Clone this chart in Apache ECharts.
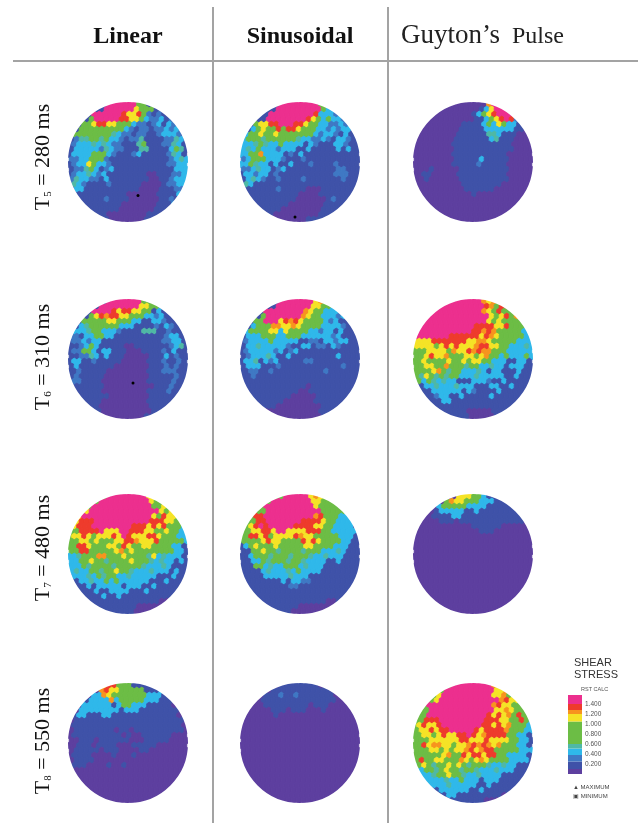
<!DOCTYPE html>
<html lang="en">
<head>
<meta charset="UTF-8">
<title>Shear stress</title>
<script src="https://cdn.jsdelivr.net/npm/echarts@6/dist/echarts.min.js"></script>
<style>
  html, body { margin: 0; padding: 0; background: #fff; }
  #chart { width: 638px; height: 827px; filter: blur(0.45px); }
</style>
</head>
<body>
<div id="chart"></div>
<script>
// one digit per cell: 0 purple ... 9 magenta
const linearT5 = [
  '111111119999995511111111','111111199999965551111111','111119999998668521211111','111159999988665322312111',
  '111556886655532212313211','115555555553212212232321','155555555432212211233321','124455453321224111122431',
  '123334343221114511122431','133333243221114411113541','133335553211123111112431','223355521111111111112343',
  '123365332111111111112233','122453123111111111111333','123343231111111100111223','243322131111111100112333',
  '143211112111111000012233','133111111111110000111221','111111111111000000111131','111111121111000000112131',
  '111111111110000000111311','111111111100000001111111','111111110000000011111111','111111110000000111111111'
];
const sinusoidalT5 = [
  '111111119999999951111111','111111199999999953311111','111111999999999833321111','111119999999986535332111',
  '111566889998865533223211','113565585886555332323311','135565565555555323321311','355545555554332232133211',
  '333454335333313211133211','343533323331131111131311','335573333121311111111111','235553332111211111111111',
  '335433131131112111121111','223433123111111111122111','133233121111111111122211','134321121111211111112111',
  '143111111111111111111111','111111121111100011111111','111111111111000011111111','111111111110000001211111',
  '111111111100000001111111','111111110000000011111111','111111100000000011111111','111110000000011111111111'
];
const guytonT5 = [
  '000000000000000799900000','000000000000013699990000','000000000000135689991000','000000000000113568982100',
  '000000000011113536533100','000000000111113333331100','000000000111111443111000','000000001111111341110000',
  '000000001111111111110000','000000001111111111110000','000000001111111111100000','000000001111131111100000',
  '000000001111121111100000','000100000111111111100000','001100000111111111100000','001000000111111111100000',
  '000000000011111111000000','000000000011111100000000','000000000000100000000000','000000000000000000000000',
  '000000000000000000000000','000000000000000000000000','000000000000000000000000','000000000000000000000000'
];
const linearT6 = [
  '111111119999999551111111','111111999999996655211111','111119999868866551311111','111156878866555332311111',
  '111555556655533113321111','113455555533311112132111','133345533321111444112111','221335533111111111123311',
  '122323311111111111122331','112353111110011111112341','122553133111000111121311','112243131110000011131211',
  '133112111110000011121121','131111111000000011121211','112111110000000011122211','121111100000000011111211',
  '122111100000000011111211','111111100000000001112111','111111100000000011112111','111111110000000011111111',
  '111111100000000011111111','111111000000000011111111','111111100000000001111111','111111000000000111111111'
];
const sinusoidalT6 = [
  '111111119999999676111111','111111199999996655331111','111119999999976553332111','111159999999765533323111',
  '111559996878655553231111','113555776676555533332111','135555663655553323313111','133355533555333333231111',
  '123333533333112213323311','133433333211331221321111','123333323123111111111111','123334311311111111131111',
  '133413231111122111111111','133311121111111111112111','112211211111111112111111','112111111111111111111111',
  '111111111111111111111111','111111111111101111111111','111111111111001111111111','111111111100000111111111',
  '111111111000000111111111','111111100000000011111111','111110000000000011111111','111110000000000011111111'
];
const guytonT6 = [
  '999999999999997676555555','999999999999998758855555','999999999999997658555555','999999999999999656857555',
  '999999999999999656555555','999999999999888866855553','999999999999887875555533','999999988888868765555533',
  '666688888886677655555333','666656868666788665533343','555666657668787755533333','556866755566567553533353',
  '556555565565665533311331','556655755545533433133311','555567545533343133111311','546545455333433333113111',
  '353543433111333211311111','113343334333111331131111','111133333313211113111111','111123311311111311111111',
  '111111331111111111111111','111111111111111111111111','111111111110000011111111','111111111110000011111111'
];
const linearT7 = [
  '555555559999999966555555','555555999999999965565555','555559999999999995565655','555699999999999999656565',
  '556999999999999996586655','568889999999999988866553','668889999999988868685553','558888966699888665565533',
  '566865666869866688655533','556656555668876668555553','558865556658655665555331','558855555675655555555331',
  '334555775556555546343331','335565545555655543433131','333545555455555433343111','343355455655433343331311',
  '133343545533433333111311','113343353533333311131111','111131333331333113111111','111113113333111311111111',
  '111111131131111111111111','111111111111111111000111','111111111111110000001111','111111111111100001111111'
];
const sinusoidalT7 = [
  '555555555999996765555555','555555999999996655555111','555559999999999655553311','555559999999999955555311',
  '555889999999999785553331','555889999999888865533331','556898999998888665533331','556688699666688855333333',
  '558868566668766555553331','555568665555868655553311','135655565555566555533311','115565545555455533343111',
  '113555455545554334333111','113354555455433331131111','111553433555343331111111','111134333435333311111111',
  '111113333343331111111111','111111113133221111111111','111111111122111111111111','111111111111111111111111',
  '111111111111111111111111','111111111111111110011111','111111111111000000011111','111111111100000000111111'
];
const guytonT7 = [
  '000000000666553111111000','000000576655533311111110','000003555553333111111110','000013333311311111111110',
  '000011113311111111111110','000001110111111111111100','000000000000111111000000','000000000000011100000000',
  '000000000000000000000000','000000000000000000000000','000000000000000000000000','000000000000000000000000',
  '000000000000000000000000','000000000000000000000000','000000000000000000000000','000000000000000000000000',
  '000000000000000000000000','000000000000000000000000','000000000000000000000000','000000000000000000000000',
  '000000000000000000000000','000000000000000000000000','000000000000000000000000','000000000000000000000000'
];
const linearT8 = [
  '000000068855511111000000','000000786655555111335000','000003376555555533311100','000133337355555333111000',
  '000333333135533311111000','003333333313331111111100','013311133111111111111100','011111111111111111111110',
  '011111111111111111111110','011111111011011111111110','011111111110100111111000','001110111111000111110000',
  '001110111100011111000000','011111011100001100000000','011110000100010000000000','011110000000000000000000',
  '011100001001000000000000','000000000000000000000000','000000000000000000000000','000000000000000000000000',
  '000000000000000000000000','000000000000000000000000','000000000000000000000000','000000000000000000000000'
];
const sinusoidalT8 = [
  '000000001111111100000000','000000111111111111000000','000001112112111111100000','000011111111111111100000',
  '000001111111110111000000','000000111011100010000000','000000010000000000000000','000000000000000000000000',
  '000000000000000000000000','000000000000000000000000','000000000000000000000000','000000000000000000000000',
  '000000000000000000000000','000000000000000000000000','000000000000000000000000','000000000000000000000000',
  '000000000000000000000000','000000000000000000000000','000000000000000000000000','000000000000000000000000',
  '000000000000000000000000','000000000000000000000000','000000000000000000000000','000000000000000000000000'
];
const guytonT8 = [
  '555555559999999976555555','555555999999999966755555','555556999999999966756555','555569999999999997866555',
  '555999999999999978665555','555999999999999966765555','555999999999999868675855','558889999999998886655853',
  '568668999999998868675553','566868899999868888755533','556656866889867888855331','555666666886668666655331',
  '558677665667878767555331','555665656678678855555333','555555675586886885533331','585566555765676555533331',
  '356545565654555433433111','335545655455433343331111','133345565543343333111111','113333433533313331111111',
  '111333343333311311111111','111113333331131111111111','111111133111111111000111','111111111111110000001111'
];

const discs = [
  linearT5, sinusoidalT5, guytonT5,
  linearT6, sinusoidalT6, guytonT6,
  linearT7, sinusoidalT7, guytonT7,
  linearT8, sinusoidalT8, guytonT8
];
// [disc, col, row] of the black minimum dots
const minimumDots = [[0, 14, 18.7], [1, 11, 23], [3, 13, 16.8]];

const columnNames = ['Linear', 'Sinusoidal'];
const rowLabels = ['T{sub|5} = 280 ms', 'T{sub|6} = 310 ms', 'T{sub|7} = 480 ms', 'T{sub|8} = 550 ms'];
const levelColors = ['#5d3f9f', '#3f52a8', '#3f78c4', '#2fb8ea', '#4fb8a5', '#6cbd45', '#f5e326', '#f7941e', '#ee3b2c', '#ec2f8e'];
const levelFloors = [0, 0.1, 0.25, 0.38, 0.51, 0.6, 1.05, 1.2, 1.28, 1.4];
const legendTop = 1.58;
const legendTicks = [0.2, 0.4, 0.6, 0.8, 1.0, 1.2, 1.4];

const columnX = [128, 300, 473];
const rowY = [162, 359, 554, 743];
const rowLabelY = [157, 357, 548, 741];
const radius = 60;
const cellsAcross = 24;

function toCells(rows) {
  const cells = [];
  rows.forEach((row, r) => {
    row.split('').forEach((level, c) => {
      const dx = c + 0.5 - cellsAcross / 2;
      const dy = r + 0.5 - cellsAcross / 2;
      if (dx * dx + dy * dy <= 169) cells.push([c, r, +level]);
    });
  });
  return cells;
}

// cells are little hexagons in staggered rows, closer to the mesh of the original
function renderCell(params, api) {
  const col = api.value(0);
  const row = api.value(1);
  const x = col + 0.5 + (row % 2 ? 0.25 : -0.25);
  const y = row + 0.5;
  const points = [
    [x, y - 0.68], [x + 0.52, y - 0.34], [x + 0.52, y + 0.34],
    [x, y + 0.68], [x - 0.52, y + 0.34], [x - 0.52, y - 0.34]
  ].map(p => api.coord(p));
  const fill = levelColors[api.value(2)];
  return {
    type: 'polygon',
    shape: { points },
    style: { fill, stroke: fill, lineWidth: 0.8 }
  };
}

function renderBand(params, api) {
  const a = api.coord([0, api.value(1)]);
  const b = api.coord([1, api.value(0)]);
  return {
    type: 'rect',
    shape: { x: a[0], y: a[1], width: b[0] - a[0], height: b[1] - a[1] },
    style: { fill: levelColors[api.value(2)] }
  };
}

const grid = [], xAxis = [], yAxis = [], series = [];

discs.forEach((rows, i) => {
  const cx = columnX[i % 3];
  const cy = rowY[Math.floor(i / 3)];
  grid.push({ left: cx - radius, top: cy - radius, width: radius * 2, height: radius * 2 });
  xAxis.push({ type: 'value', gridIndex: i, min: 0, max: cellsAcross, show: false });
  yAxis.push({ type: 'value', gridIndex: i, min: 0, max: cellsAcross, inverse: true, show: false });
  series.push({
    type: 'custom', xAxisIndex: i, yAxisIndex: i, silent: true, clip: false,
    renderItem: renderCell, data: toCells(rows)
  });
  // white ring trims the cells to a round edge
  series.push({
    type: 'scatter', xAxisIndex: i, yAxisIndex: i, silent: true, z: 3,
    symbol: 'circle', symbolSize: (radius + 7) * 2,
    itemStyle: { color: 'transparent', borderColor: '#fff', borderWidth: 14, opacity: 1 },
    data: [[cellsAcross / 2, cellsAcross / 2]]
  });
  const dots = minimumDots.filter(d => d[0] === i).map(d => [d[1], d[2]]);
  if (dots.length) {
    series.push({
      type: 'scatter', xAxisIndex: i, yAxisIndex: i, silent: true, z: 4,
      symbol: 'circle', symbolSize: 3, itemStyle: { color: '#000', opacity: 1 }, data: dots
    });
  }
});

// colour bar of the legend
const bar = discs.length;
grid.push({ left: 568, top: 695, width: 14, height: 79 });
xAxis.push({ type: 'value', gridIndex: bar, min: 0, max: 1, show: false });
yAxis.push({
  type: 'value', gridIndex: bar, position: 'right', min: 0, max: legendTop,
  splitLine: { show: false },
  axisLine: { show: false },
  axisTick: { length: 5, customValues: legendTicks, lineStyle: { color: '#333', width: 1 } },
  axisLabel: {
    customValues: legendTicks, margin: 3, color: '#555', fontSize: 6.5,
    fontFamily: 'Liberation Sans', formatter: v => v.toFixed(3)
  }
});
series.push({
  type: 'custom', xAxisIndex: bar, yAxisIndex: bar, silent: true,
  renderItem: renderBand,
  data: levelFloors.map((floor, i) => [floor, i + 1 < levelFloors.length ? levelFloors[i + 1] : legendTop, i]),
  encode: { y: [0, 1] }
});

const serif = 'Liberation Serif';
const sans = 'Liberation Sans';
const ruleStyle = { stroke: '#a3a3a3', lineWidth: 2 };

const graphic = [
  { type: 'line', shape: { x1: 13, y1: 61, x2: 638, y2: 61 }, style: ruleStyle },
  { type: 'line', shape: { x1: 213, y1: 7, x2: 213, y2: 823 }, style: ruleStyle },
  { type: 'line', shape: { x1: 388, y1: 7, x2: 388, y2: 823 }, style: ruleStyle },
  {
    type: 'text', x: 128, y: 37,
    style: { text: columnNames[0], fontFamily: serif, fontSize: 24, fontWeight: 'bold', fill: '#111', textAlign: 'center', textVerticalAlign: 'middle' }
  },
  {
    type: 'text', x: 300, y: 37,
    style: { text: columnNames[1], fontFamily: serif, fontSize: 24, fontWeight: 'bold', fill: '#111', textAlign: 'center', textVerticalAlign: 'middle' }
  },
  {
    type: 'text', x: 401, y: 36,
    style: { text: 'Guyton\u2019s', fontFamily: serif, fontSize: 27, fill: '#222', textAlign: 'left', textVerticalAlign: 'middle' }
  },
  {
    type: 'text', x: 512, y: 37,
    style: { text: 'Pulse', fontFamily: serif, fontSize: 24, fill: '#222', textAlign: 'left', textVerticalAlign: 'middle' }
  },
  { type: 'text', x: 574, y: 663, style: { text: 'SHEAR', fontFamily: sans, fontSize: 11, fill: '#333', textVerticalAlign: 'middle' } },
  { type: 'text', x: 574, y: 675, style: { text: 'STRESS', fontFamily: sans, fontSize: 11, fill: '#333', textVerticalAlign: 'middle' } },
  { type: 'text', x: 581, y: 689, style: { text: 'RST CALC', fontFamily: sans, fontSize: 5.5, fill: '#555', textVerticalAlign: 'middle' } },
  { type: 'text', x: 573, y: 787, style: { text: '\u25B2 MAXIMUM', fontFamily: sans, fontSize: 6, fill: '#444', textVerticalAlign: 'middle' } },
  { type: 'text', x: 573, y: 796, style: { text: '\u25A3 MINIMUM', fontFamily: sans, fontSize: 6, fill: '#444', textVerticalAlign: 'middle' } }
];

rowLabels.forEach((label, i) => {
  graphic.push({
    type: 'text', x: 43, y: rowLabelY[i], rotation: Math.PI / 2,
    style: {
      text: label, fontFamily: serif, fontSize: 22, fill: '#111', textAlign: 'center', textVerticalAlign: 'middle',
      rich: { sub: { fontFamily: serif, fontSize: 11, fill: '#111', padding: [10, 0, 0, 0] } }
    }
  });
});

const chart = echarts.init(document.getElementById('chart'), null, { renderer: 'canvas' });
chart.setOption({
  animation: false,
  backgroundColor: '#fff',
  grid, xAxis, yAxis, series, graphic
});
</script>
</body>
</html>
